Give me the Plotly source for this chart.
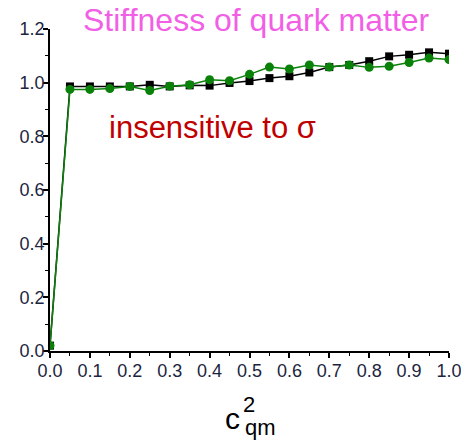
import plotly.graph_objects as go

# Squared speed of sound in quark matter
c2_qm = [0.0, 0.05, 0.10, 0.15, 0.20, 0.25, 0.30, 0.35, 0.40, 0.45, 0.50,
         0.55, 0.60, 0.65, 0.70, 0.75, 0.80, 0.85, 0.90, 0.95, 1.00]

# Two sigma settings
series_black = [0.02, 0.986, 0.986, 0.986, 0.986, 0.992, 0.986, 0.990, 0.989, 0.999, 1.006,
                1.017, 1.024, 1.038, 1.058, 1.066, 1.080, 1.098, 1.104, 1.113, 1.108]
series_green = [0.02, 0.975, 0.975, 0.978, 0.986, 0.971, 0.987, 0.992, 1.011, 1.007, 1.031,
                1.058, 1.051, 1.066, 1.058, 1.066, 1.057, 1.061, 1.075, 1.092, 1.086]

x_ticks = [0.0, 0.1, 0.2, 0.3, 0.4, 0.5, 0.6, 0.7, 0.8, 0.9, 1.0]
y_ticks = [0.0, 0.2, 0.4, 0.6, 0.8, 1.0, 1.2]

GREEN = "#0a820a"
TICK_COLOR = "#1c2540"
FONT = "Liberation Sans, Arial, sans-serif"

fig = go.Figure()
fig.add_trace(go.Scatter(
    x=c2_qm, y=series_black, mode="lines+markers",
    line=dict(color="black", width=1.5),
    marker=dict(symbol="square", size=8, color="black"),
    showlegend=False,
))
fig.add_trace(go.Scatter(
    x=c2_qm, y=series_green, mode="lines+markers",
    line=dict(color=GREEN, width=1.5),
    marker=dict(symbol="circle", size=9, color=GREEN),
    showlegend=False,
))

L, R, T, B = 50, 12, 29, 90
W, H = 461, 441
pw, ph = W - L - R, H - T - B


def px(xp):
    return (xp - L) / pw


def py(yp):
    return (H - B - yp) / ph


axis_common = dict(
    showline=True, linecolor="black", linewidth=1.5,
    ticks="outside", ticklen=5, tickwidth=1.5, tickcolor="black",
    showgrid=False, zeroline=False, automargin=False,
    ticklabeloverflow="allow",
    tickfont=dict(family=FONT, size=18, color=TICK_COLOR),
)

fig.update_xaxes(range=[0, 1.0], tickvals=x_ticks,
                 ticktext=[f"{v:.1f}" for v in x_ticks],
                 ticklabelstandoff=-2,
                 minor=dict(ticks="outside", ticklen=3, tickwidth=1.2,
                            tickcolor="black", dtick=0.05),
                 **axis_common)
fig.update_yaxes(range=[0, 1.2], tickvals=y_ticks,
                 ticktext=[f"{v:.1f}" for v in y_ticks],
                 ticklabelstandoff=-5,
                 minor=dict(ticks="outside", ticklen=3, tickwidth=1.2,
                            tickcolor="black", dtick=0.1),
                 **axis_common)

annotations = [
    dict(text="Stiffness of quark matter", x=px(256), y=py(20),
         font=dict(family=FONT, size=32, color="#f25fe6")),
    dict(text="insensitive to σ", x=px(212), y=py(127),
         font=dict(family=FONT, size=31, color="#c00000")),
    dict(text="c", x=px(232), y=py(418),
         font=dict(family=FONT, size=30, color="black")),
    dict(text="2", x=px(249), y=py(404),
         font=dict(family=FONT, size=22, color="black")),
    dict(text="qm", x=px(260), y=py(427),
         font=dict(family=FONT, size=22, color="black")),
]
for a in annotations:
    a.update(xref="paper", yref="paper", showarrow=False,
             xanchor="center", yanchor="middle")

fig.update_layout(
    width=W, height=H,
    margin=dict(l=L, r=R, t=T, b=B),
    paper_bgcolor="white", plot_bgcolor="white",
    annotations=annotations,
)

fig.write_html("out.html")
